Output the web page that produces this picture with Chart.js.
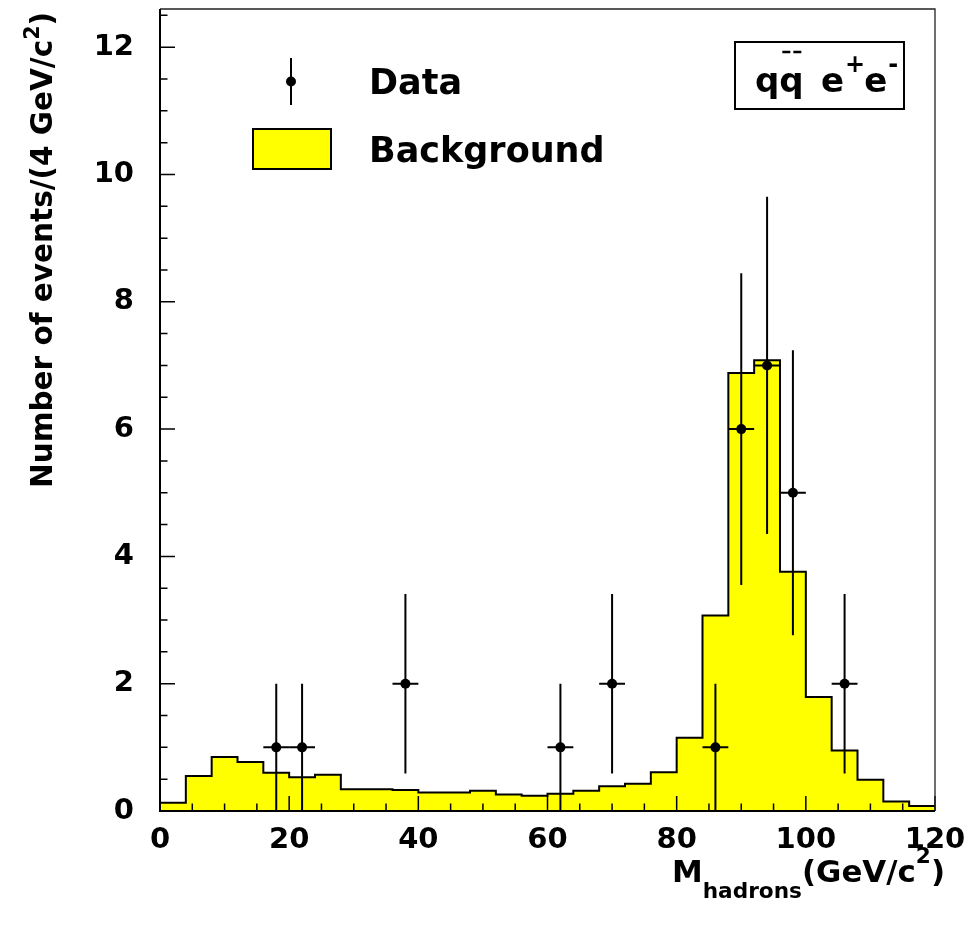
<!DOCTYPE html>
<html>
<head>
<meta charset="utf-8">
<script src="https://cdn.jsdelivr.net/npm/chart.js@4.4.0/dist/chart.umd.min.js"></script>
<style>
    html, body { margin: 0; padding: 0; background: #ffffff; }
    #wrap { width: 970px; height: 926px; }
</style>
</head>
<body>
<div id="wrap"><canvas id="hist_chart" width="970" height="926"></canvas></div>
<script>
// background histogram, 4 GeV bins (low edges)
const bin_lo = [0, 4, 8, 12, 16, 20, 24, 28, 32, 36,
                40, 44, 48, 52, 56, 60, 64, 68, 72, 76,
                80, 84, 88, 92, 96, 100, 104, 108, 112, 116];
const bin_hi_last = 120;
const bg_vals = [0.13, 0.55, 0.85, 0.77, 0.60, 0.53, 0.57, 0.34, 0.34, 0.33,
                 0.29, 0.29, 0.32, 0.26, 0.24, 0.27, 0.32, 0.39, 0.43, 0.61,
                 1.15, 3.07, 6.88, 7.08, 3.76, 1.79, 0.95, 0.49, 0.15, 0.08];

// data points with error bars
const data_x = [18, 22, 38, 62, 70, 86, 90, 94, 98, 106];
const data_y = [1, 1, 2, 1, 2, 1, 6, 7, 5, 2];
const data_lo = [0, 0, 0.59, 0, 0.59, 0, 3.55, 4.35, 2.76, 0.59];
const data_hi = [2, 2, 3.41, 2, 3.41, 2, 8.45, 9.65, 7.24, 3.41];
const data_xerr = 2;

// axis ticks
const x_ticks = [0, 20, 40, 60, 80, 100, 120];
const y_ticks = [0, 2, 4, 6, 8, 10, 12];
const x_minor_step = 5;
const y_minor_step = 0.5;

const FONT = "'DejaVu Sans', 'Liberation Sans', Arial, sans-serif";

function bg_points() {
    const pts = bin_lo.map(function (lo, i) { return { x: lo, y: bg_vals[i] }; });
    pts.push({ x: bin_hi_last, y: bg_vals[bg_vals.length - 1] });
    return pts;
}

function data_points() {
    return data_x.map(function (x, i) { return { x: x, y: data_y[i] }; });
}

// draw a run of text pieces [text, size, dy], optionally squeezed to a width
function draw_parts(ctx, parts, x, y, align, fit_width) {
    let w = 0;
    parts.forEach(function (p) {
        ctx.font = "bold " + p[1] + "px " + FONT;
        w += ctx.measureText(p[0]).width;
    });
    const sx = fit_width ? fit_width / w : 1;
    ctx.save();
    ctx.translate(x, y);
    ctx.scale(sx, 1);
    let cx = align === "right" ? -w : 0;
    ctx.textAlign = "left";
    ctx.textBaseline = "alphabetic";
    ctx.fillStyle = "#000";
    parts.forEach(function (p) {
        ctx.font = "bold " + p[1] + "px " + FONT;
        ctx.fillText(p[0], cx, p[2]);
        cx += ctx.measureText(p[0]).width;
    });
    ctx.restore();
}

const hep_plugin = {
    id: "hep",
    afterDatasetsDraw: function (chart) {
        const ctx = chart.ctx;
        const xs = chart.scales.x;
        const ys = chart.scales.y;
        const area = chart.chartArea;

        ctx.save();
        ctx.strokeStyle = "#000";
        ctx.lineWidth = 2;

        // error bars
        data_x.forEach(function (x, i) {
            const px = xs.getPixelForValue(x);
            const py = ys.getPixelForValue(data_y[i]);
            ctx.beginPath();
            ctx.moveTo(px, ys.getPixelForValue(data_lo[i]));
            ctx.lineTo(px, ys.getPixelForValue(data_hi[i]));
            ctx.moveTo(xs.getPixelForValue(x - data_xerr), py);
            ctx.lineTo(xs.getPixelForValue(x + data_xerr), py);
            ctx.stroke();
        });

        // inward ticks
        ctx.lineWidth = 1.5;
        ctx.beginPath();
        for (let v = xs.min; v <= xs.max + 1e-9; v += x_minor_step) {
            const px = xs.getPixelForValue(v);
            const len = x_ticks.indexOf(v) >= 0 ? 15 : 7.5;
            ctx.moveTo(px, area.bottom);
            ctx.lineTo(px, area.bottom - len);
        }
        for (let v = ys.min; v <= ys.max + 1e-9; v += y_minor_step) {
            const py = ys.getPixelForValue(v);
            const len = y_ticks.indexOf(Math.round(v * 100) / 100) >= 0 ? 15 : 7.5;
            ctx.moveTo(area.left, py);
            ctx.lineTo(area.left + len, py);
        }
        ctx.stroke();

        // frame
        ctx.lineWidth = 1.3;
        ctx.strokeStyle = "#222";
        ctx.beginPath();
        ctx.moveTo(area.left, area.top);
        ctx.lineTo(area.right, area.top);
        ctx.lineTo(area.right, area.bottom);
        ctx.stroke();
        ctx.lineWidth = 2;
        ctx.strokeStyle = "#000";
        ctx.beginPath();
        ctx.moveTo(area.left, area.top);
        ctx.lineTo(area.left, area.bottom);
        ctx.lineTo(area.right, area.bottom);
        ctx.stroke();
        ctx.restore();
    },
    afterDraw: function (chart) {
        const ctx = chart.ctx;
        ctx.save();

        // legend: data marker
        ctx.strokeStyle = "#000";
        ctx.lineWidth = 2;
        ctx.beginPath();
        ctx.moveTo(291, 58);
        ctx.lineTo(291, 105);
        ctx.stroke();
        ctx.fillStyle = "#000";
        ctx.beginPath();
        ctx.arc(291, 81.5, 5, 0, Math.PI * 2);
        ctx.fill();
        draw_parts(ctx, [["Data", 35, 0]], 369, 93.5, "left");

        // legend: background box
        ctx.fillStyle = "#ffff00";
        ctx.fillRect(253, 129, 78, 40);
        ctx.lineWidth = 2;
        ctx.strokeRect(253, 129, 78, 40);
        draw_parts(ctx, [["Background", 35, 0]], 369, 162, "left");

        // process label box
        ctx.lineWidth = 2;
        ctx.strokeStyle = "#000";
        ctx.strokeRect(735, 42, 169, 67);
        ctx.font = "bold 34px " + FONT;
        ctx.fillStyle = "#000";
        ctx.textAlign = "left";
        ctx.textBaseline = "alphabetic";
        const qw = ctx.measureText("q").width;
        ctx.fillText("qq", 755, 91.5);
        ctx.setLineDash([8, 3]);
        ctx.lineWidth = 2.5;
        ctx.beginPath();
        ctx.moveTo(755 + qw + 3, 52);
        ctx.lineTo(755 + 2 * qw - 2, 52);
        ctx.stroke();
        ctx.setLineDash([]);
        let cx = 821;
        ctx.fillText("e", cx, 91.5);
        cx += ctx.measureText("e").width;
        ctx.font = "bold 24px " + FONT;
        ctx.fillText("+", cx + 1, 72);
        cx += ctx.measureText("+").width;
        ctx.font = "bold 34px " + FONT;
        ctx.fillText("e", cx, 91.5);
        cx += ctx.measureText("e").width;
        ctx.font = "bold 24px " + FONT;
        ctx.fillText("-", cx + 1, 72);

        // axis titles
        draw_parts(ctx, [["M", 30, 0], ["hadrons", 21, 16], ["(GeV/c", 30, 0], ["2", 21, -19], [")", 30, 0]],
                   945, 882, "right", 273);
        ctx.translate(52, 12);
        ctx.rotate(-Math.PI / 2);
        draw_parts(ctx, [["Number of events/(4 GeV/c", 30, 0], ["2", 21, -13], [")", 30, 0]],
                   0, 0, "right", 476);
        ctx.restore();
    }
};

function main() {
    const tick_font = { family: FONT, size: 29, weight: "bold" };
    const hist_chart = new Chart(
        document.getElementById("hist_chart"),
        {
            type: "scatter",
            data: {
                datasets: [
                    {
                        label: "Data",
                        data: data_points(),
                        pointRadius: 5,
                        pointHoverRadius: 5,
                        pointBackgroundColor: "#000",
                        pointBorderWidth: 0,
                        order: 0
                    },
                    {
                        type: "line",
                        label: "Background",
                        data: bg_points(),
                        stepped: "before",
                        fill: "origin",
                        backgroundColor: "#ffff00",
                        borderColor: "#000",
                        borderWidth: 2,
                        pointRadius: 0,
                        order: 1
                    }
                ]
            },
            options: {
                responsive: false,
                animation: false,
                layout: { padding: { top: 9, right: 35, left: 0, bottom: 0 } },
                plugins: { legend: { display: false }, tooltip: { enabled: false } },
                scales: {
                    x: {
                        type: "linear",
                        min: 0,
                        max: 120,
                        grid: { display: false, drawTicks: false },
                        border: { display: false },
                        ticks: {
                            font: tick_font, color: "#000", padding: 12,
                            maxRotation: 0, autoSkip: false,
                            callback: function (v) { return String(v); }
                        },
                        afterBuildTicks: function (s) { s.ticks = x_ticks.map(function (v) { return { value: v }; }); },
                        afterFit: function (s) {
                            s.height = 115;
                            s.paddingLeft = 0;
                            s.paddingRight = 0;
                        }
                    },
                    y: {
                        type: "linear",
                        min: 0,
                        max: 12.6,
                        grid: { display: false, drawTicks: false },
                        border: { display: false },
                        ticks: {
                            font: tick_font, color: "#000", padding: 26,
                            autoSkip: false,
                            callback: function (v) { return String(v); }
                        },
                        afterBuildTicks: function (s) { s.ticks = y_ticks.map(function (v) { return { value: v }; }); },
                        afterFit: function (s) {
                            s.width = 160;
                            s.paddingTop = 0;
                            s.paddingBottom = 0;
                        }
                    }
                }
            },
            plugins: [hep_plugin]
        }
    );
}

main();
</script>
</body>
</html>
